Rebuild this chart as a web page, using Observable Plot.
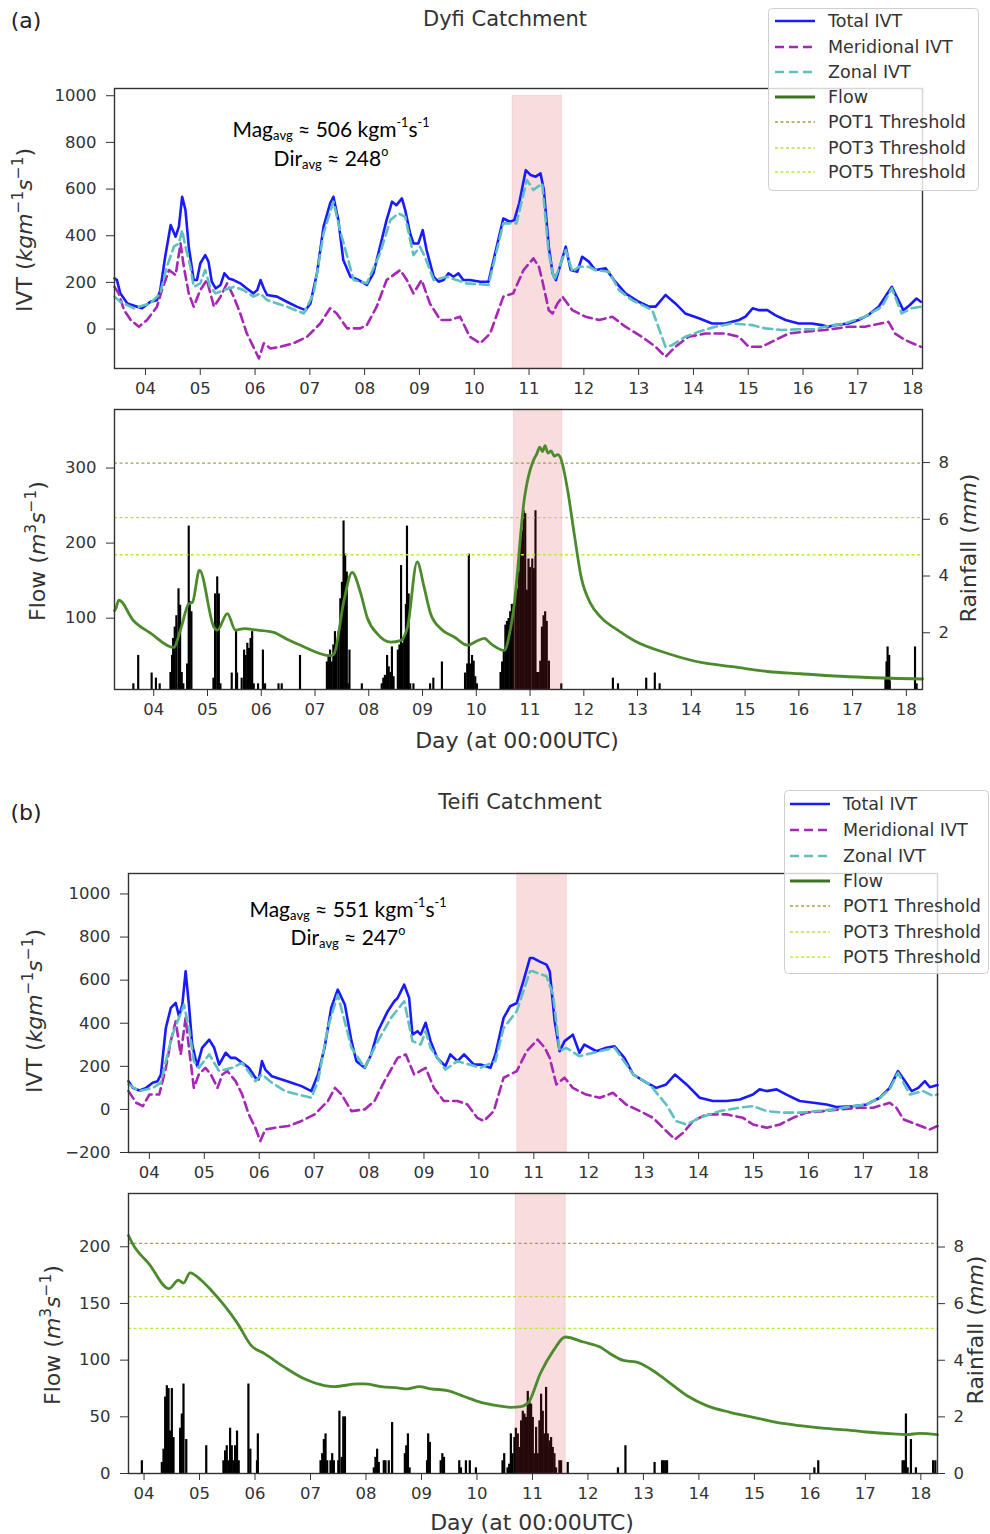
<!DOCTYPE html>
<html><head><meta charset="utf-8">
<script src="https://cdn.jsdelivr.net/npm/d3@7"></script>
<script src="https://cdn.jsdelivr.net/npm/@observablehq/plot@0.6"></script>
<style>
body{margin:0;background:#fff;}
#page{position:relative;width:990px;height:1534px;overflow:hidden;font-family:"DejaVu Sans",sans-serif;color:#333;}
.wrap{position:absolute;left:0;}
.vlabel{position:absolute;transform:translate(-50%,-50%) rotate(-90deg);white-space:nowrap;font-size:22px;color:#333;}
.hlabel{position:absolute;transform:translate(-50%,-50%);white-space:nowrap;}
.vlabel sup{font-size:70%;vertical-align:0.55em;line-height:0;}
.ann{font-family:Lato,"Open Sans",sans-serif;font-size:21px;color:#000;}
.ann sub{font-size:62%;vertical-align:-0.25em;line-height:0;}
.ann sup{font-size:60%;vertical-align:0.75em;line-height:0;}
</style></head>
<body><div id="page"></div>
<script>
// ---------- data ----------
const dayTicks = [4,5,6,7,8,9,10,11,12,13,14,15,16,17,18];
const ivtTicksA = [0,200,400,600,800,1000];
const ivtTicksB = [-200,0,200,400,600,800,1000];
const flowTicksA = [100,200,300];
const rainTicksA = [2,4,6,8];
const flowTicksB = [0,50,100,150,200];
const rainTicksB = [0,2,4,6,8];
const band = [10.7, 11.6];
const potA = [306.5, 234, 184.5];
const potB = [203, 156, 128];
const seriesNames = ["Total IVT","Meridional IVT","Zonal IVT","Flow","POT1 Threshold","POT3 Threshold","POT5 Threshold"];

const totalA = [[3.435,217],[3.48,210],[3.54,153],[3.67,110],[3.85,96],[3.94,89],[4.09,117],[4.21,124],[4.27,167],[4.36,310],[4.46,446],[4.55,396],[4.61,439],[4.67,567],[4.73,510],[4.79,353],[4.88,210],[4.94,210],[5.0,281],[5.09,317],[5.15,289],[5.21,203],[5.28,174],[5.37,189],[5.44,239],[5.52,217],[5.61,210],[5.73,196],[5.85,174],[5.97,153],[6.04,167],[6.10,210],[6.16,174],[6.22,146],[6.40,139],[6.58,117],[6.76,96],[6.92,81],[7.01,110],[7.13,239],[7.25,439],[7.37,539],[7.43,567],[7.52,467],[7.61,296],[7.74,224],[7.89,210],[8.04,189],[8.16,239],[8.28,353],[8.40,467],[8.50,546],[8.58,531],[8.68,560],[8.74,510],[8.83,410],[8.89,367],[8.98,367],[9.06,424],[9.13,339],[9.26,224],[9.35,203],[9.44,210],[9.53,239],[9.62,224],[9.71,239],[9.80,210],[9.92,210],[10.11,203],[10.26,203],[10.38,324],[10.53,474],[10.65,460],[10.73,467],[10.82,539],[10.94,681],[11.03,660],[11.12,653],[11.21,667],[11.27,596],[11.36,353],[11.43,239],[11.49,210],[11.58,281],[11.67,353],[11.76,253],[11.88,246],[11.97,310],[12.09,289],[12.21,253],[12.40,260],[12.55,210],[12.76,153],[13.0,117],[13.19,96],[13.31,96],[13.49,146],[13.67,110],[13.85,67],[14.10,46],[14.34,24],[14.58,24],[14.83,39],[14.95,53],[15.08,89],[15.20,81],[15.35,81],[15.49,60],[15.68,39],[15.92,24],[16.16,24],[16.34,17],[16.46,10],[16.58,17],[16.83,24],[17.01,39],[17.19,60],[17.38,96],[17.50,139],[17.62,181],[17.74,124],[17.83,81],[17.95,103],[18.07,131],[18.15,117]];
const meridA = [[3.435,181],[3.51,153],[3.61,81],[3.73,39],[3.88,10],[4.03,39],[4.21,96],[4.30,167],[4.43,253],[4.55,231],[4.64,367],[4.70,267],[4.79,153],[4.88,96],[5.0,167],[5.12,210],[5.25,96],[5.37,139],[5.49,196],[5.61,139],[5.73,67],[5.85,-19],[5.97,-76],[6.07,-126],[6.16,-61],[6.28,-83],[6.46,-76],[6.70,-61],[6.95,-33],[7.19,24],[7.37,89],[7.49,67],[7.68,3],[7.92,3],[8.04,17],[8.22,96],[8.40,210],[8.65,253],[8.77,210],[8.89,153],[9.04,210],[9.19,110],[9.38,39],[9.56,39],[9.74,53],[9.92,-33],[10.11,-61],[10.29,-19],[10.53,139],[10.71,153],[10.90,253],[11.08,303],[11.18,267],[11.24,210],[11.36,81],[11.43,67],[11.52,110],[11.61,139],[11.79,81],[12.03,53],[12.28,39],[12.52,53],[12.76,10],[13.06,-33],[13.31,-76],[13.49,-119],[13.67,-76],[13.91,-33],[14.22,-19],[14.58,-19],[14.83,-33],[15.01,-76],[15.25,-76],[15.49,-47],[15.74,-19],[16.04,-11],[16.40,-4],[16.83,10],[17.13,10],[17.56,31],[17.68,-19],[17.86,-47],[18.15,-76]];
const zonalA = [[3.435,139],[3.54,117],[3.79,89],[4.09,110],[4.27,153],[4.39,267],[4.52,353],[4.61,367],[4.67,424],[4.73,353],[4.82,267],[4.88,181],[5.0,196],[5.09,253],[5.18,181],[5.28,153],[5.43,167],[5.61,181],[5.79,167],[5.97,139],[6.10,153],[6.22,124],[6.58,96],[6.89,67],[7.07,153],[7.25,410],[7.43,546],[7.55,424],[7.80,210],[8.04,196],[8.28,324],[8.47,467],[8.62,496],[8.74,481],[8.89,317],[9.01,353],[9.10,310],[9.26,210],[9.50,224],[9.86,196],[10.26,189],[10.53,453],[10.77,453],[10.96,639],[11.08,596],[11.24,624],[11.36,324],[11.46,210],[11.58,281],[11.67,339],[11.79,246],[11.91,267],[12.09,267],[12.21,253],[12.46,246],[12.64,167],[12.88,124],[13.25,81],[13.49,-76],[13.61,-69],[13.85,-33],[14.10,-11],[14.40,10],[14.70,24],[15.07,17],[15.31,3],[15.61,-4],[15.92,-1],[16.22,-1],[16.40,10],[16.77,24],[17.13,53],[17.44,96],[17.62,174],[17.80,67],[17.98,89],[18.15,96]];
const flowA = [[3.27,110],[3.29,112],[3.35,124],[3.62,97],[3.94,80],[4.37,61],[4.50,85],[4.65,119],[4.72,121],[4.85,164],[5.12,88],[5.18,84],[5.37,106],[5.52,84],[5.68,86],[5.93,84],[6.23,81],[6.48,72],[6.73,64],[7.29,50],[7.35,52],[7.54,124],[7.69,161],[7.85,133],[7.97,101],[8.16,79],[8.41,68],[8.59,70],[8.72,88],[8.90,175],[9.03,141],[9.15,106],[9.34,86],[9.59,75],[9.84,64],[10.02,70],[10.15,73],[10.27,66],[10.52,57],[10.62,80],[10.70,115],[10.89,257],[11.08,313],[11.12,318],[11.18,328],[11.23,322],[11.28,330],[11.33,320],[11.39,323],[11.45,316],[11.52,318],[11.57,313],[11.70,270],[11.82,213],[11.95,155],[12.13,119],[12.32,101],[12.63,84],[12.94,70],[13.56,53],[14.18,41],[14.80,35],[15.42,29],[16.04,26],[16.66,23],[17.28,21],[18.30,19]];
const rainA = [[3.63,0.2],[3.72,1.2],[3.97,0.58],[4.05,0.4],[4.12,0.2],[4.32,0.6],[4.35,1.2],[4.37,1.8],[4.40,2.2],[4.43,2.6],[4.47,3.55],[4.50,2.97],[4.53,0.6],[4.56,0.2],[4.63,0.9],[4.66,5.76],[4.68,3.1],[4.71,2.74],[5.12,0.4],[5.15,3.37],[5.19,3.97],[5.22,3.37],[5.25,0.2],[5.46,0.58],[5.54,2.04],[5.56,0.58],[5.645,0.4],[5.69,1.39],[5.72,1.2],[5.75,1.63],[5.78,1.45],[5.81,1.8],[5.84,2.04],[5.87,0.2],[5.95,0.2],[6.04,1.39],[6.08,0.2],[6.33,0.2],[6.39,0.2],[6.73,1.2],[7.23,0.97],[7.26,1.2],[7.29,1.39],[7.32,0.97],[7.35,1.57],[7.38,2.04],[7.41,1.57],[7.445,2.04],[7.48,3.2],[7.51,3.78],[7.54,5.94],[7.57,4.77],[7.60,4.14],[7.63,0.2],[7.65,1.39],[7.88,0.2],[8.25,0.2],[8.28,0.4],[8.31,0.5],[8.35,1.2],[8.38,0.8],[8.41,0.6],[8.44,1.5],[8.47,0.45],[8.55,1.39],[8.58,1.57],[8.61,4.37],[8.64,1.63],[8.67,1.8],[8.70,3.0],[8.72,5.76],[8.75,3.37],[8.78,0.2],[8.84,0.2],[9.15,0.2],[9.21,0.4],[9.37,0.97],[9.80,0.58],[9.84,0.9],[9.87,4.77],[9.90,0.9],[9.93,1.2],[9.96,1.0],[9.99,0.45],[10.02,0.2],[10.46,0.6],[10.49,0.97],[10.52,1.39],[10.55,2.27],[10.58,2.4],[10.61,2.5],[10.64,2.74],[10.67,3.0],[10.70,3.0],[10.74,3.4],[10.77,3.55],[10.80,4.14],[10.83,5.2],[10.86,5.6],[10.89,6.3],[10.92,6.2],[10.95,3.5],[10.98,4.6],[11.01,4.3],[11.05,4.6],[11.08,4.26],[11.11,6.3],[11.14,0.6],[11.17,0.6],[11.20,1.0],[11.23,2.2],[11.26,2.6],[11.29,2.74],[11.32,2.4],[11.36,1.0],[11.59,0.2],[12.55,0.4],[12.645,0.2],[13.17,0.4],[13.33,0.58],[13.42,0.2],[17.62,0.4],[17.64,0.97],[17.66,1.5],[17.69,1.2],[17.70,0.3],[18.17,1.5],[18.20,0.2]];

const totalB = [[3.62,131],[3.70,100],[3.82,88],[3.94,100],[4.06,124],[4.15,131],[4.21,162],[4.30,378],[4.39,471],[4.48,494],[4.54,432],[4.60,486],[4.66,641],[4.72,486],[4.78,301],[4.87,201],[4.96,286],[5.09,324],[5.18,286],[5.27,208],[5.39,263],[5.48,239],[5.57,239],[5.69,216],[5.81,193],[5.93,147],[5.99,139],[6.05,224],[6.11,185],[6.23,154],[6.41,139],[6.59,124],[6.77,108],[6.95,85],[7.07,162],[7.19,286],[7.31,471],[7.43,556],[7.56,486],[7.68,317],[7.77,224],[7.92,193],[8.04,255],[8.16,363],[8.34,456],[8.46,502],[8.52,517],[8.64,579],[8.73,517],[8.79,347],[8.88,363],[8.94,347],[9.03,402],[9.12,317],[9.24,239],[9.39,201],[9.48,255],[9.61,224],[9.73,255],[9.91,208],[10.03,208],[10.21,193],[10.30,255],[10.45,425],[10.57,479],[10.69,494],[10.81,595],[10.93,703],[10.98,703],[11.10,687],[11.23,672],[11.29,641],[11.38,409],[11.47,270],[11.56,317],[11.71,347],[11.83,263],[11.92,301],[12.14,270],[12.32,286],[12.47,293],[12.65,239],[12.81,162],[13.05,124],[13.23,100],[13.41,116],[13.57,162],[13.78,116],[14.02,54],[14.26,39],[14.51,39],[14.75,46],[14.99,69],[15.11,93],[15.24,85],[15.42,93],[15.60,69],[15.84,39],[16.09,31],[16.33,23],[16.51,11],[16.81,15],[17.06,23],[17.30,54],[17.48,100],[17.63,178],[17.76,131],[17.88,85],[18.00,100],[18.12,131],[18.21,103],[18.35,113]];
const meridB = [[3.62,85],[3.76,31],[3.88,15],[4.0,69],[4.18,69],[4.30,193],[4.39,317],[4.48,409],[4.57,255],[4.66,425],[4.72,286],[4.81,100],[4.90,162],[5.02,193],[5.12,162],[5.24,100],[5.33,162],[5.42,178],[5.57,131],[5.69,69],[5.81,-23],[5.93,-85],[6.02,-147],[6.11,-93],[6.29,-85],[6.53,-77],[6.77,-54],[7.01,-23],[7.25,39],[7.38,100],[7.50,69],[7.68,-8],[7.92,0],[8.10,39],[8.28,131],[8.52,239],[8.67,255],[8.82,162],[9.03,193],[9.18,100],[9.36,39],[9.61,39],[9.79,23],[9.97,-39],[10.09,-54],[10.27,-8],[10.45,147],[10.69,178],[10.87,270],[11.07,324],[11.20,286],[11.29,239],[11.41,116],[11.56,147],[11.71,100],[11.95,69],[12.20,54],[12.44,77],[12.68,23],[12.93,-8],[13.17,-39],[13.41,-100],[13.57,-139],[13.72,-108],[13.90,-54],[14.14,-23],[14.51,-23],[14.81,-39],[14.99,-70],[15.24,-85],[15.48,-70],[15.72,-39],[15.96,-15],[16.27,-8],[16.57,0],[16.94,8],[17.18,8],[17.48,31],[17.60,8],[17.73,-46],[17.97,-70],[18.21,-93],[18.35,-77]];
const zonalB = [[3.62,116],[3.82,85],[4.06,100],[4.21,124],[4.30,224],[4.42,347],[4.54,425],[4.63,486],[4.72,378],[4.81,224],[4.90,193],[5.09,255],[5.27,178],[5.51,193],[5.69,216],[5.93,131],[6.05,162],[6.23,124],[6.47,85],[6.71,69],[6.95,54],[7.07,131],[7.25,380],[7.43,533],[7.68,286],[7.92,193],[8.16,317],[8.40,425],[8.64,502],[8.79,317],[8.94,301],[9.03,363],[9.12,286],[9.39,185],[9.61,224],[10.03,193],[10.30,224],[10.45,378],[10.69,456],[10.93,641],[10.98,641],[11.23,618],[11.35,533],[11.47,270],[11.59,286],[11.83,247],[12.20,270],[12.47,286],[12.81,162],[13.11,116],[13.41,23],[13.59,-54],[13.78,-70],[14.02,-39],[14.38,-8],[14.75,8],[14.99,15],[15.24,-8],[15.54,-15],[15.84,-15],[16.15,-8],[16.45,0],[16.81,15],[17.06,23],[17.30,54],[17.48,93],[17.63,170],[17.85,69],[18.09,85],[18.27,62],[18.35,70]];
const flowB = [[3.72,210],[3.79,203],[4.09,185],[4.45,163],[4.62,170.5],[4.71,168],[4.83,177],[5.03,170.5],[5.21,161.7],[5.45,148],[5.69,132],[5.93,113],[6.17,105.7],[6.53,93.8],[6.89,83.5],[7.25,77.6],[7.43,76.7],[7.85,79],[7.97,79],[8.27,76.7],[8.57,75.5],[8.75,74.7],[8.96,76.7],[9.17,74.7],[9.47,73.2],[9.77,67.9],[10.07,62.8],[10.37,59.9],[10.61,58.4],[10.79,59],[10.93,62.8],[11.14,88],[11.38,108.6],[11.59,120.4],[11.92,116],[12.22,111.5],[12.40,105.7],[12.64,99.7],[12.88,98.2],[13.12,92.4],[13.42,82],[13.78,68.8],[14.14,59.9],[14.56,54],[14.98,49.6],[15.40,45.1],[15.82,42.2],[16.18,40.2],[16.66,38.4],[17.02,36.6],[17.50,34.9],[17.74,34.3],[17.98,35.4],[18.30,34.3]];
const rainB = [[3.97,0.45],[4.33,0.39],[4.36,0.86],[4.39,2.7],[4.42,3.1],[4.45,3.0],[4.48,1.5],[4.51,3.0],[4.54,1.27],[4.66,1.6],[4.69,2.1],[4.72,3.16],[4.77,1.2],[5.13,0.98],[5.44,0.45],[5.47,0.8],[5.50,0.98],[5.53,0.45],[5.56,1.6],[5.59,0.98],[5.62,0.45],[5.65,0.98],[5.685,1.5],[5.715,0.45],[5.89,3.16],[5.925,0.86],[6.045,0.45],[6.06,1.4],[7.19,0.45],[7.22,0.7],[7.25,1.2],[7.28,1.4],[7.31,0.45],[7.37,0.45],[7.40,0.7],[7.43,0.45],[7.51,0.45],[7.53,2.2],[7.57,0.57],[7.60,2.0],[7.63,2.0],[8.15,0.2],[8.18,0.57],[8.21,0.86],[8.24,0.39],[8.33,0.45],[8.36,0.45],[8.42,0.45],[8.48,1.8],[8.71,0.7],[8.735,0.98],[8.765,1.4],[8.795,0.2],[9.11,0.45],[9.13,1.4],[9.16,1.1],[9.355,0.45],[9.385,0.7],[9.415,0.57],[9.69,0.45],[9.72,0.2],[9.81,0.45],[9.88,0.45],[9.99,0.2],[10.47,0.45],[10.50,0.7],[10.56,0.2],[10.59,0.33],[10.62,1.4],[10.65,0.7],[10.685,1.27],[10.71,1.6],[10.745,1.4],[10.775,0.92],[10.805,1.86],[10.835,2.2],[10.865,2.1],[10.895,1.98],[10.925,2.9],[10.955,2.57],[10.985,2.45],[11.015,1.98],[11.045,0.7],[11.075,1.63],[11.105,0.7],[11.135,1.86],[11.165,2.8],[11.195,2.2],[11.225,1.4],[11.255,3.04],[11.285,1.4],[11.315,1.15],[11.345,1.27],[11.375,0.92],[11.405,0.7],[11.435,0.2],[11.495,0.45],[11.525,0.45],[11.645,0.39],[12.55,0.2],[12.685,0.98],[13.21,0.39],[13.345,0.45],[13.375,0.45],[13.405,0.45],[13.435,0.45],[16.09,0.2],[16.16,0.45],[17.68,0.45],[17.71,0.45],[17.74,2.1],[17.77,0.2],[17.83,1.2],[17.92,0.2],[18.23,0.45],[18.27,0.45]];

// ---------- styling ----------
const C = {total:"#1a1aff", merid:"#a626b6", zonal:"#5ec0bf", flow:"#4b8b2b", pot:["#a8a048","#c6d64c","#b4ef3c"], band:"#d9303a"};
const fmtDay = d => String(d).padStart(2, "0");
const fmtNum = d => d < 0 ? "\u2212" + Math.abs(d) : String(d);
const baseStyle = {fontFamily:"DejaVu Sans", fontSize:"16.5px", color:"#333", background:"transparent", overflow:"visible"};
const page = document.getElementById("page");

function place(el, top) {
  const w = document.createElement("div");
  w.className = "wrap"; w.style.top = top + "px";
  w.appendChild(el); page.appendChild(w);
}
function html(h, style, cls) {
  const d = document.createElement("div");
  d.className = cls || "hlabel"; d.innerHTML = h;
  Object.assign(d.style, style);
  page.appendChild(d);
}

function ivtChart(o) {
  return Plot.plot({
    width: 990, height: o.h, marginLeft: o.ml, marginRight: o.mr, marginTop: o.mt, marginBottom: o.mb,
    style: baseStyle,
    x: {domain: o.xDom, ticks: dayTicks, tickFormat: fmtDay, tickSize: 7, tickPadding: 7, label: null},
    y: {domain: o.yDom, ticks: o.yTicks, tickFormat: fmtNum, tickSize: 8, tickPadding: 10, label: null},
    marks: [
      Plot.rect([band], {x1: d => d[0], x2: d => d[1], y1: () => o.yDom[0], y2: () => o.bandTop, fill: C.band, fillOpacity: 0.17, stroke: C.band, strokeOpacity: 0.12}),
      Plot.line(o.total, {x: d => d[0], y: d => d[1], stroke: C.total, strokeWidth: 2.6}),
      Plot.line(o.merid, {x: d => d[0], y: d => d[1], stroke: C.merid, strokeWidth: 2.6, strokeDasharray: "9,5"}),
      Plot.line(o.zonal, {x: d => d[0], y: d => d[1], stroke: C.zonal, strokeWidth: 2.6, strokeDasharray: "9,5"}),
      Plot.frame({stroke: "#333", strokeWidth: 1.4})
    ]
  });
}

function flowCharts(o) {
  const common = {width: 990, height: o.h, marginLeft: o.ml, marginRight: o.mr, marginTop: o.mt, marginBottom: o.mb, style: baseStyle};
  const hw = 0.02;
  const rain = Plot.plot({
    ...common,
    x: {domain: o.xDom, axis: null},
    y: {domain: o.rainDom, axis: "right", ticks: o.rainTicks, tickFormat: fmtNum, tickSize: 7, tickPadding: 9, label: null},
    marks: [
      Plot.rect(o.rain, {x1: d => d[0] - hw, x2: d => d[0] + hw, y1: () => 0, y2: d => d[1], fill: "#000"})
    ]
  });
  const flow = Plot.plot({
    ...common,
    x: {domain: o.xDom, ticks: dayTicks, tickFormat: fmtDay, tickSize: 7, tickPadding: 7, label: null},
    y: {domain: o.flowDom, ticks: o.flowTicks, tickFormat: fmtNum, tickSize: 8, tickPadding: 10, label: null},
    marks: [
      Plot.rect([band], {x1: d => d[0], x2: d => d[1], y1: () => o.flowDom[0], y2: () => o.flowDom[1], fill: C.band, fillOpacity: 0.17, stroke: C.band, strokeOpacity: 0.12}),
      Plot.ruleY([o.pot[0]], {stroke: C.pot[0], strokeWidth: 1.3, strokeDasharray: "3,2.5"}),
      Plot.ruleY([o.pot[1]], {stroke: C.pot[1], strokeWidth: 1.3, strokeDasharray: "3,2.5"}),
      Plot.ruleY([o.pot[2]], {stroke: C.pot[2], strokeWidth: 1.3, strokeDasharray: "3,2.5"}),
      Plot.line(o.flow, {x: d => d[0], y: d => d[1], stroke: C.flow, strokeWidth: 2.8, curve: "monotone-x"}),
      Plot.frame({stroke: "#333", strokeWidth: 1.4})
    ]
  });
  place(rain, o.top);
  place(flow, o.top);
}

function legend(left, top, w, h, rows, sx0, sx1, tx) {
  const ns = "http://www.w3.org/2000/svg";
  const svg = document.createElementNS(ns, "svg");
  svg.setAttribute("width", w); svg.setAttribute("height", h);
  svg.style.position = "absolute"; svg.style.left = left + "px"; svg.style.top = top + "px";
  const styles = [
    {stroke: C.total, dash: null, width: 2.6},
    {stroke: C.merid, dash: "9,5", width: 2.6},
    {stroke: C.zonal, dash: "9,5", width: 2.6},
    {stroke: "#3c7323", dash: null, width: 2.8},
    {stroke: C.pot[0], dash: "3,2.5", width: 1.3},
    {stroke: C.pot[1], dash: "3,2.5", width: 1.3},
    {stroke: C.pot[2], dash: "3,2.5", width: 1.3}
  ];
  let s = `<rect x="0.5" y="0.5" width="${w-1}" height="${h-1}" rx="4" fill="#fff" fill-opacity="0.8" stroke="#cfcfcf"/>`;
  seriesNames.forEach((name, i) => {
    const st = styles[i];
    s += `<line x1="${sx0}" x2="${sx1}" y1="${rows[i]}" y2="${rows[i]}" stroke="${st.stroke}" stroke-width="${st.width}" ${st.dash ? `stroke-dasharray="${st.dash}"` : ""}/>`;
    s += `<text x="${tx}" y="${rows[i]}" dy="0.35em" font-family="DejaVu Sans" font-size="17.5" fill="#333">${name}</text>`;
  });
  svg.innerHTML = s;
  page.appendChild(svg);
}

// ---------- panel (a) ----------
place(ivtChart({h: 340, ml: 114, mr: 68, mt: 28, mb: 32, xDom: [3.435, 18.18], yDom: [-169, 1031], yTicks: ivtTicksA, bandTop: 1000, total: totalA, merid: meridA, zonal: zonalA}), 60);
flowCharts({top: 400, h: 320, ml: 114, mr: 68, mt: 9, mb: 31, xDom: [3.27, 18.30], flowDom: [5, 378], rainDom: [0, 9.87], flowTicks: flowTicksA, rainTicks: rainTicksA, pot: potA, flow: flowA, rain: rainA});

// ---------- panel (b) ----------
place(ivtChart({h: 320, ml: 128, mr: 53, mt: 13, mb: 28, xDom: [3.62, 18.35], yDom: [-200, 1095], yTicks: ivtTicksB, bandTop: 1095, total: totalB, merid: meridB, zonal: zonalB}), 860);
flowCharts({top: 1180, h: 320, ml: 128, mr: 53, mt: 13, mb: 27, xDom: [3.72, 18.30], flowDom: [0, 247], rainDom: [0, 9.89], flowTicks: flowTicksB, rainTicks: rainTicksB, pot: potB, flow: flowB, rain: rainB});

// ---------- text ----------
html("(a)", {left: "26px", top: "20px", fontSize: "22px", color: "#222"});
html("Dyfi Catchment", {left: "505px", top: "19px", fontSize: "21px", color: "#333"});
html("(b)", {left: "26px", top: "812px", fontSize: "22px", color: "#222"});
html("Teifi Catchment", {left: "520px", top: "802px", fontSize: "21px", color: "#333"});

html("Mag<sub>avg</sub> \u2248 506 kgm<sup>-1</sup>s<sup>-1</sup>", {left: "331px", top: "128px"}, "hlabel ann");
html("Dir<sub>avg</sub> \u2248 248<sup>o</sup>", {left: "331px", top: "157px"}, "hlabel ann");
html("Mag<sub>avg</sub> \u2248 551 kgm<sup>-1</sup>s<sup>-1</sup>", {left: "348px", top: "908px"}, "hlabel ann");
html("Dir<sub>avg</sub> \u2248 247<sup>o</sup>", {left: "348px", top: "936px"}, "hlabel ann");

const ivtLab = "IVT (<i>kgm</i><sup>\u22121</sup><i>s</i><sup>\u22121</sup>)";
const flowLab = "Flow (<i>m</i><sup>3</sup><i>s</i><sup>\u22121</sup>)";
const rainLab = "Rainfall (<i>mm</i>)";
html(ivtLab, {left: "24px", top: "230px"}, "vlabel");
html(flowLab, {left: "37px", top: "551px"}, "vlabel");
html(rainLab, {left: "968px", top: "548px"}, "vlabel");
html("Day (at 00:00UTC)", {left: "517px", top: "740px", fontSize: "22px", color: "#333"});
html(ivtLab, {left: "34px", top: "1011px"}, "vlabel");
html(flowLab, {left: "52px", top: "1335px"}, "vlabel");
html(rainLab, {left: "975px", top: "1330px"}, "vlabel");
html("Day (at 00:00UTC)", {left: "532px", top: "1522px", fontSize: "22px", color: "#333"});

// ---------- legends ----------
legend(768, 8, 211, 183, [13, 39, 64, 89, 114, 140, 164], 7, 47, 60);
legend(784, 790, 205, 184, [14, 40, 66, 91, 116, 142, 167], 6, 46, 59);
</script>
</body></html>
